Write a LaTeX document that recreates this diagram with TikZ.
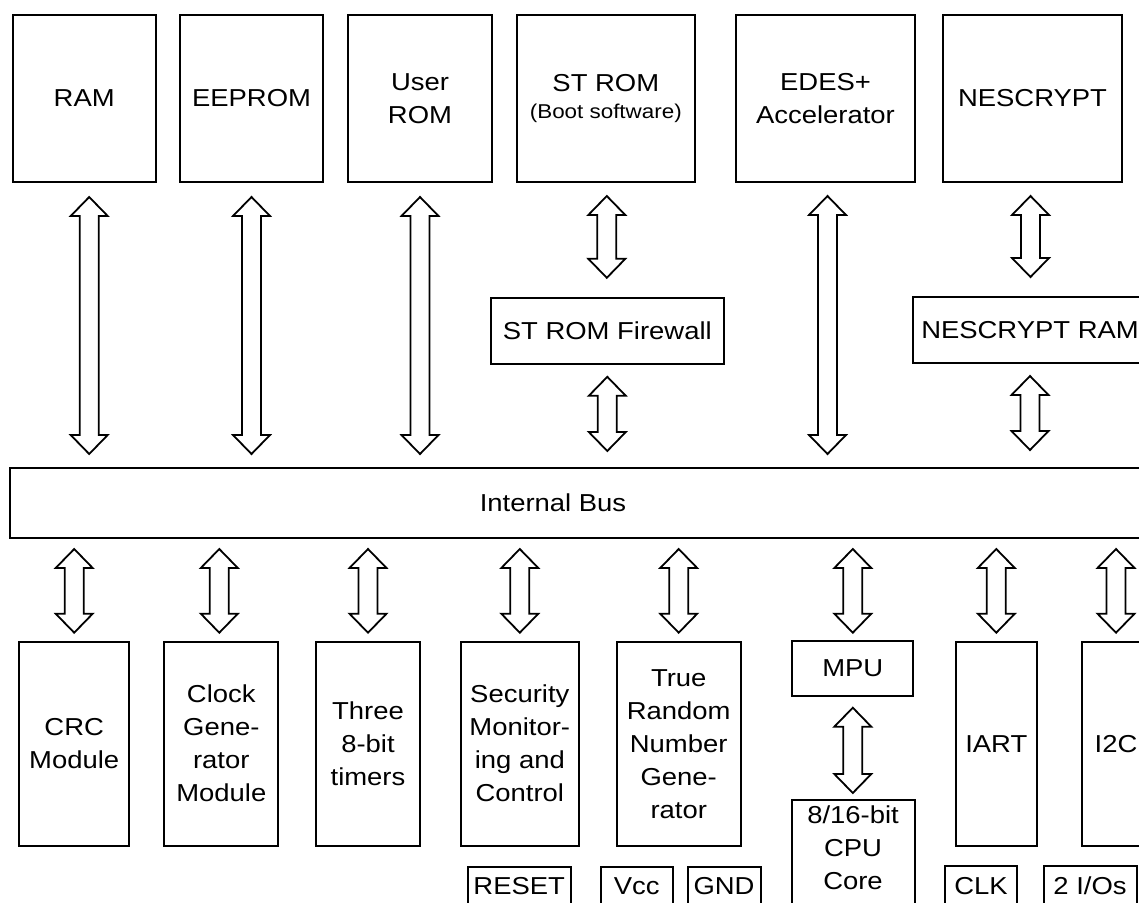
\documentclass[tikz,border=0pt]{standalone}
\usepackage{fontspec}
\setmainfont[FakeStretch=1.12]{Liberation Sans}
\usetikzlibrary{calc}
\begin{document}
\begin{tikzpicture}[x=1pt,y=-1pt,
  box/.style={draw=black, line width=2pt, fill=white, inner sep=0pt, align=center,
    font=\fontsize{24.5}{33}\selectfont},
  txt/.style={inner sep=0pt, align=center, font=\fontsize{24.5}{33}\selectfont},
  fat/.style={draw=black, fill=white, line width=1.8pt, line join=miter,
    to path={let \p1=(\tikztostart), \p2=(\tikztotarget) in
      (\x1,\y1) -- (\x1+18.5pt,\y1-19pt) -- (\x1+9.5pt,\y1-19pt) -- (\x1+9.5pt,\y2+19pt)
      -- (\x1+18.5pt,\y2+19pt) -- (\x1,\y2) -- (\x1-18.5pt,\y2+19pt) -- (\x1-9.5pt,\y2+19pt)
      -- (\x1-9.5pt,\y1-19pt) -- (\x1-18.5pt,\y1-19pt) -- cycle}}]
\useasboundingbox[fill=white] (0,0) rectangle (1139,902);

% top row
\node[box, minimum width=143, minimum height=167] (ram) at (84.2,98.5) {RAM};
\node[box, minimum width=143, minimum height=167] (eeprom) at (251.5,98.5) {EEPROM};
\node[box, minimum width=144, minimum height=167] (urom) at (420,98.5) {User\\ROM};
\node[box, minimum width=178, minimum height=167] (strom) at (605.8,98.5)
  {ST ROM\\[-6pt]{\fontsize{20}{24}\selectfont (Boot software)}};
\node[box, minimum width=179, minimum height=167] (edes) at (825.5,98.5) {EDES+\\Accelerator};
\node[box, minimum width=179, minimum height=167] (nes) at (1032.5,98.5) {NESCRYPT};

% middle
\node[box, minimum width=233, minimum height=66] (fw) at (607.3,330.8) {ST ROM Firewall};
\node[box, minimum width=234, minimum height=66] (nesram) at (1030,330) {NESCRYPT RAM};

% bus
\node[box, minimum width=1142, minimum height=70, anchor=west] (bus) at (9.3,503) {};
\node[txt] (bustext) at (553,503) {Internal Bus};

% bottom row
\node[box, minimum width=110, minimum height=204] (crc) at (74.2,743.7) {CRC\\Module};
\node[box, minimum width=114, minimum height=204] (clk) at (221.3,743.7) {Clock\\Gene-\\rator\\Module};
\node[box, minimum width=104, minimum height=204] (tim) at (368,743.7) {Three\\8-bit\\timers};
\node[box, minimum width=118, minimum height=204] (sec) at (519.8,743.7) {Security\\Monitor-\\ing and\\Control};
\node[box, minimum width=124, minimum height=204] (trng) at (678.7,743.7) {True\\Random\\Number\\Gene-\\rator};
\node[box, minimum width=121, minimum height=55] (mpu) at (852.8,668.2) {MPU};
\node[box, minimum width=123, minimum height=106, anchor=north] (cpu) at (853,799) {};
\node[txt] (cputext) at (853,847.5) {8/16-bit\\CPU\\Core};
\node[box, minimum width=81, minimum height=204] (iart) at (996.3,743.7) {IART};
\node[box, minimum width=68, minimum height=204] (i2c) at (1116,743.7) {I2C};

% pins
\node[box, minimum width=103, minimum height=39] (reset) at (519.2,886) {RESET};
\node[box, minimum width=72, minimum height=39] (vcc) at (636.7,886) {Vcc};
\node[box, minimum width=73, minimum height=39] (gnd) at (724,886) {GND};
\node[box, minimum width=72, minimum height=40] (clkpin) at (981,886) {CLK};
\node[box, minimum width=93, minimum height=40] (ios) at (1090,886) {2 I/Os};

% arrows top
\draw[fat] ($(ram.south)+(5,14)$) to ($(ram.south |- bus.north)+(5,-13)$);
\draw[fat] ($(eeprom.south)+(0,14)$) to ($(eeprom.south |- bus.north)+(0,-13)$);
\draw[fat] ($(urom.south)+(0,14)$) to ($(urom.south |- bus.north)+(0,-13)$);
\draw[fat] ($(edes.south)+(2,13)$) to ($(edes.south |- bus.north)+(2,-13)$);
\draw[fat] ($(strom.south)+(1,13)$) to ($(fw.north)+(0,-19)$);
\draw[fat] ($(fw.south)+(0,12)$) to ($(fw.south |- bus.north)+(0,-16)$);
\draw[fat] ($(nes.south)+(-2,13)$) to ($(nesram.north)+(0,-19)$);
\draw[fat] ($(nesram.south)+(0,12)$) to ($(nesram.south |- bus.north)+(0,-17)$);

% arrows bottom
\draw[fat] ($(bus.south -| crc.north)+(0,10)$) to ($(crc.north)+(0,-8)$);
\draw[fat] ($(bus.south -| clk.north)+(-2,10)$) to ($(clk.north)+(-2,-8)$);
\draw[fat] ($(bus.south -| tim.north)+(0,10)$) to ($(tim.north)+(0,-8)$);
\draw[fat] ($(bus.south -| sec.north)+(0,10)$) to ($(sec.north)+(0,-8)$);
\draw[fat] ($(bus.south -| trng.north)+(0,10)$) to ($(trng.north)+(0,-8)$);
\draw[fat] ($(bus.south -| mpu.north)+(0,10)$) to ($(mpu.north)+(0,-7)$);
\draw[fat] ($(bus.south -| iart.north)+(0,10)$) to ($(iart.north)+(0,-8)$);
\draw[fat] ($(bus.south -| i2c.north)+(0,10)$) to ($(i2c.north)+(0,-8)$);
\draw[fat] ($(mpu.south)+(0,11)$) to ($(cpu.north)+(0,-6)$);
\end{tikzpicture}
\end{document}
